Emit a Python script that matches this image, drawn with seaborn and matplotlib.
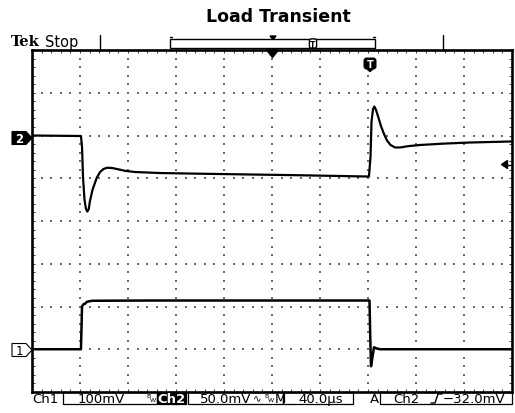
import numpy as np
import matplotlib
matplotlib.use("Agg")
import matplotlib.pyplot as plt
import seaborn as sns
import pandas as pd
from matplotlib.patches import Polygon, Rectangle, FancyBboxPatch

# ---------------- data ----------------
title = "Load Transient"

# Ch2: output voltage deviation (mV) vs time (us)
ch2_time_us = [0.0, 40.8, 41.7, 42.5, 43.75, 45.0, 46.1, 47.3, 48.3, 50.4, 53.9,
               56.7, 59.6, 62.5, 66.7, 70.8, 77.5, 85.8, 106.7, 140.0, 181.7,
               223.3, 280.8, 282.1, 282.9, 284.2, 285.3, 286.7, 288.8, 290.8,
               293.3, 295.8, 298.8, 302.5, 306.7, 313.3, 323.3, 344.2, 365.0, 399.2]
ch2_mv = [0.0, -0.6, -13.5, -48.5, -75.4, -86.0, -88.9, -86.0, -76.6, -63.7, -49.7,
          -42.7, -39.2, -37.7, -38.0, -39.2, -41.3, -42.7, -43.9, -44.7, -45.6,
          -46.5, -48.0, -25.0, 15.8, 31.0, 33.9, 29.8, 20.5, 11.1,
          1.8, -5.8, -11.1, -14.0, -14.0, -12.5, -11.1, -9.4, -8.2, -7.0]

# Ch1: load current sense voltage (mV) vs time (us)
ch1_time_us = [0.0, 40.8, 41.7, 42.9, 44.2, 45.8, 50.0, 98.3, 181.7, 281.25,
               281.9, 282.5, 283.3, 285.0, 286.7, 290.0, 399.2]
ch1_mv = [0.0, 0.0, 100.6, 105.3, 106.4, 111.0, 113.4, 114.0, 114.0, 114.0,
          25.7, -39.8, -25.7, 4.7, 2.3, 0.0, 0.0]

ch1_scale_mv = 100
ch2_scale_mv = 50
time_scale_us = 40
ch1_position_div = -3
ch2_position_div = 2

status_ch1 = "100mV"
status_ch2 = "50.0mV"
status_time = "40.0\u00b5s"
status_trig = "\u221232.0mV"

# ---------------- style ----------------
sns.set_theme(style="white")
plt.rcParams['font.family'] = ['DejaVu Sans']
plt.rcParams['text.color'] = 'black'

W, H = 515, 414
fig = plt.figure(figsize=(W / 100, H / 100), dpi=100)
fig.patch.set_facecolor("white")

L, R, T, B = 32, 512, 51, 393
ax = fig.add_axes([L / W, 1 - B / H, (R - L) / W, (B - T) / H])
ax.set_facecolor("white")

xmax = 10 * time_scale_us
ax.set_xlim(0, xmax)
ax.set_ylim(-4, 4)

# graticule dots
minor_x = np.arange(0, xmax + 0.01, time_scale_us / 5)
minor_y = np.arange(-4, 4.001, 0.2)
for k in range(1, 10):
    ax.scatter(np.full(len(minor_y), k * time_scale_us), minor_y, s=0.8, marker='s',
               color='#6a6a6a', linewidths=0, zorder=1)
for j in range(-3, 4):
    ax.scatter(minor_x, np.full(len(minor_x), j), s=0.8, marker='s',
               color='#6a6a6a', linewidths=0, zorder=1)

# traces
df2 = pd.DataFrame({"t": ch2_time_us,
                    "v": np.array(ch2_mv) / ch2_scale_mv + ch2_position_div})
df1 = pd.DataFrame({"t": ch1_time_us,
                    "v": np.array(ch1_mv) / ch1_scale_mv + ch1_position_div})
sns.lineplot(data=df2, x="t", y="v", ax=ax, color="black", lw=1.6,
             sort=False, estimator=None, zorder=3)
sns.lineplot(data=df1, x="t", y="v", ax=ax, color="black", lw=1.8,
             sort=False, estimator=None, zorder=3)
ax.set_xlabel("")
ax.set_ylabel("")

ax.set_xticks(np.arange(0, xmax + 1, time_scale_us))
ax.set_xticks(minor_x, minor=True)
ax.set_yticks(np.arange(-4, 4.1, 1))
ax.set_yticks(minor_y, minor=True)
ax.tick_params(which='both', direction='in', length=2.5, width=0.7, color='#333333',
               top=True, right=True, bottom=True, left=True,
               labelbottom=False, labelleft=False)
for s in ax.spines.values():
    s.set_color("black")
    s.set_linewidth(1.9)

# ---------------- overlay in pixel coords ----------------
ov = fig.add_axes([0, 0, 1, 1], zorder=5)
ov.set_xlim(0, W)
ov.set_ylim(H, 0)
ov.axis('off')
ov.patch.set_alpha(0)

ov.text(278.5, 16.5, title, ha='center', va='center', fontsize=12.5,
        fontweight='bold', family=['DejaVu Sans'])
ov.text(11, 42, "Tek", ha='left', va='center', fontsize=10.5,
        fontweight='bold', family=['DejaVu Serif'])
ov.text(45, 42, "Stop", ha='left', va='center', fontsize=10.5)

# record-view ruler
k = dict(color='black', lw=1)
ov.plot([100, 100], [36, 51], **k)
ov.plot([443, 443], [36, 51], **k)
ov.add_patch(Rectangle((170, 39.5), 205, 9.5, fill=False, ec='black', lw=1))
ov.plot([170, 172], [38, 38], **k)
ov.plot([170, 172], [50.5, 50.5], **k)
ov.plot([373, 375], [38, 38], **k)
ov.plot([373, 375], [50.5, 50.5], **k)
ov.add_patch(Polygon([(270, 37), (276, 37), (273, 40.5)], closed=True, color='black'))
ov.add_patch(FancyBboxPatch((310, 40.5), 6, 8, boxstyle="round,pad=0.6,rounding_size=2",
                            fc='white', ec='black', lw=1))
ov.text(313, 45, "T", ha='center', va='center', fontsize=5.5, fontweight='bold')

# trigger position marker on frame top
ov.add_patch(Polygon([(266.5, 51), (278.5, 51), (272.5, 58.5)], closed=True, color='black'))
# trigger "T" marker
ov.add_patch(FancyBboxPatch((365, 60), 10, 9, boxstyle="round,pad=0.8,rounding_size=2.5",
                            fc='black', ec='black', lw=1))
ov.add_patch(Polygon([(367, 70), (373, 70), (370, 72.5)], closed=True, color='black'))
ov.text(370, 64.8, "T", ha='center', va='center', fontsize=7, fontweight='bold', color='white')

# channel ground markers
ov.add_patch(Polygon([(12, 132.5), (26, 132.5), (32, 139), (26, 145.5), (12, 145.5)],
                     closed=True, fc='black', ec='black', lw=0.8))
ov.text(19, 139.5, "2", ha='center', va='center', fontsize=8.5, fontweight='bold', color='white')
ov.add_patch(Polygon([(12, 344.5), (26, 344.5), (32, 351), (26, 357.5), (12, 357.5)],
                     closed=True, fc='white', ec='black', lw=0.8))
ov.text(19, 351.5, "1", ha='center', va='center', fontsize=8.5, color='black')

# trigger level arrow on right
ov.add_patch(Polygon([(501.5, 165.5), (507.5, 161.5), (507.5, 169.5)], closed=True, color='black'))
ov.plot([507, 511], [165.5, 165.5], **k)

# ---------------- bottom status line ----------------
ty = 399.5
fs = 9.5
ov.text(32, ty, "Ch1", ha='left', va='center', fontsize=fs)
ov.add_patch(Rectangle((62.5, 393), 94, 12.5, fill=False, ec='black', lw=0.9))
ov.text(78, ty, status_ch1, ha='left', va='center', fontsize=fs)
ov.text(146.5, 396.5, "B", ha='left', va='center', fontsize=4.5)
ov.text(149.5, 400.5, "W", ha='left', va='center', fontsize=4.5)
ov.add_patch(Rectangle((157, 393), 29, 12.5, fc='black', ec='black', lw=0.9))
ov.text(171.5, ty, "Ch2", ha='center', va='center', fontsize=fs, color='white', fontweight='bold')
ov.add_patch(Rectangle((187.5, 393), 95.5, 12.5, fill=False, ec='black', lw=0.9))
ov.text(200, ty, status_ch2, ha='left', va='center', fontsize=fs)
ov.text(253, ty, "\u223f", ha='left', va='center', fontsize=7.5)
ov.text(264.5, 396.5, "B", ha='left', va='center', fontsize=4.5)
ov.text(267.5, 400.5, "W", ha='left', va='center', fontsize=4.5)
ov.text(274.5, ty, "M", ha='left', va='center', fontsize=fs)
ov.add_patch(Rectangle((283, 393), 70, 12.5, fill=False, ec='black', lw=0.9))
ov.text(298, ty, status_time, ha='left', va='center', fontsize=fs)
ov.text(370, ty, "A", ha='left', va='center', fontsize=fs)
ov.add_patch(Rectangle((380, 393), 132, 12.5, fill=False, ec='black', lw=0.9))
ov.text(393, ty, "Ch2", ha='left', va='center', fontsize=fs)
ov.plot([431, 435, 438, 442], [404, 404, 395, 395], color='black', lw=1)
ov.text(443, ty, status_trig, ha='left', va='center', fontsize=fs)

fig.savefig("out.png", dpi=100, facecolor="white")
